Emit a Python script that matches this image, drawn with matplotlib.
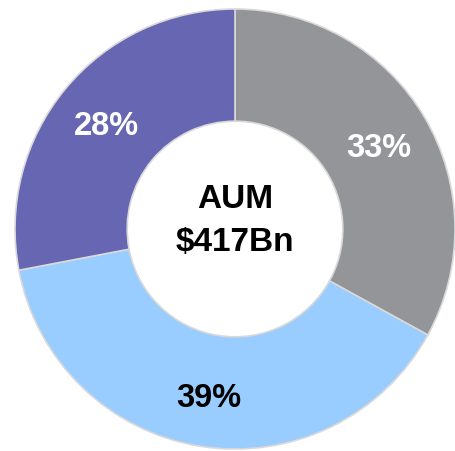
import matplotlib.pyplot as plt

# datos del grafico
segmentos = ['Gris', 'Azul claro', 'Violeta']
porcentajes = [33, 39, 28]
colores = ['#939598', '#99CCFF', '#6666B2']
colores_texto = ['white', 'black', 'white']

plt.rcParams['font.family'] = ['Liberation Sans', 'DejaVu Sans']

fig = plt.figure(figsize=(4.55, 4.52), dpi=100)
ax = fig.add_axes([15 / 455, 2 / 452, 440 / 455, 440 / 452])

wedges, textos, autotextos = ax.pie(
    porcentajes, colors=colores, startangle=90, counterclock=False,
    radius=1.0, autopct='%d%%', pctdistance=0.76,
    wedgeprops=dict(width=0.51, edgecolor='#D9D9D9', linewidth=1.2),
)
for w in wedges:
    w.set_clip_on(False)
for t, c in zip(autotextos, colores_texto):
    t.set_color(c)
    t.set_fontsize(23.5)
    t.set_fontweight('bold')
    t.set_va('center_baseline')

ax.text(0, 0.14, 'AUM', ha='center', va='center', fontsize=24, fontweight='bold')
ax.text(0, -0.055, '$417Bn', ha='center', va='center', fontsize=24, fontweight='bold')

ax.set_xlim(-1, 1)
ax.set_ylim(-1, 1)
ax.set_aspect('equal')
ax.axis('off')

fig.savefig('out.png', dpi=100)
